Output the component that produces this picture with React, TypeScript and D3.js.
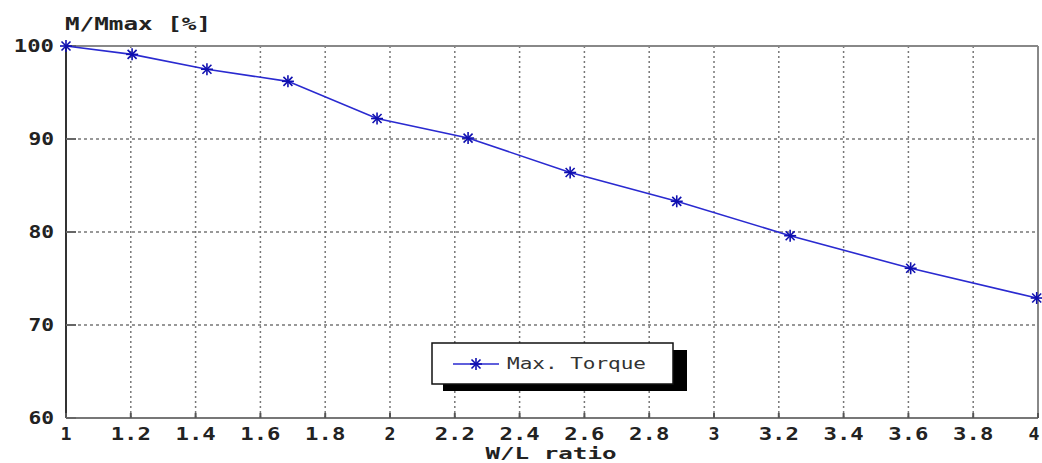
import React from "react";
import * as d3 from "d3";

const wlRatio = [1, 1.204, 1.435, 1.685, 1.96, 2.241, 2.556, 2.885, 3.235, 3.607, 3.996];
const maxTorque = [100, 99.1, 97.5, 96.2, 92.2, 90.1, 86.4, 83.3, 79.6, 76.1, 72.9];
const xTicks = [1, 1.2, 1.4, 1.6, 1.8, 2, 2.2, 2.4, 2.6, 2.8, 3, 3.2, 3.4, 3.6, 3.8, 4];
const yTicks = [60, 70, 80, 90, 100];
const seriesName = "Max. Torque";
const yTitle = "M/Mmax [%]";
const xTitle = "W/L ratio";

const W = 1042, H = 463;
const m = { left: 66, right: 1038, top: 46, bottom: 418 };
const font = "'DejaVu Sans Mono', monospace";

function T(props: { x: number; y: number; s: string; anchor?: string; cell: number; bold?: boolean; size?: number; fill?: string }) {
  const { x, y, s, anchor = "start", cell, bold = true, size = 17, fill = "#222" } = props;
  const len = s.length * cell - (cell - 11);
  return (
    <text x={x} y={y} textAnchor={anchor} fontFamily={font} fontWeight={bold ? "bold" : "normal"} fontSize={size}
      textLength={len} lengthAdjust="spacingAndGlyphs" fill={fill}>
      {s}
    </text>
  );
}

export default function App() {
  const x = d3.scaleLinear().domain([1, 4]).range([m.left, m.right]);
  const y = d3.scaleLinear().domain([60, 100]).range([m.bottom, m.top]);
  const line = d3.line<number>().x((_, i) => x(wlRatio[i])).y((d) => y(d));
  const star = (cx: number, cy: number, k: number) => {
    const r = 6;
    return (
      <g key={k} stroke="#1010b0" strokeWidth={1.6}>
        <line x1={cx - r} y1={cy} x2={cx + r} y2={cy} />
        <line x1={cx} y1={cy - r} x2={cx} y2={cy + r} />
        <line x1={cx - r * 0.75} y1={cy - r * 0.75} x2={cx + r * 0.75} y2={cy + r * 0.75} />
        <line x1={cx - r * 0.75} y1={cy + r * 0.75} x2={cx + r * 0.75} y2={cy - r * 0.75} />
      </g>
    );
  };
  const lx = 432, ly = 343, lw = 241, lh = 41;
  return (
    <svg width={W} height={H} style={{ position: "absolute", left: 0, top: 0, background: "#fff" }}>
      {/* grid */}
      {xTicks.slice(1, -1).map((t) => (
        <line key={"gx" + t} x1={x(t)} x2={x(t)} y1={m.top} y2={m.bottom} stroke="#777" strokeWidth={1.5} strokeDasharray="2,3" />
      ))}
      {yTicks.slice(1, -1).map((t) => (
        <line key={"gy" + t} x1={m.left} x2={m.right} y1={y(t)} y2={y(t)} stroke="#777" strokeWidth={1.5} strokeDasharray="3,3" />
      ))}
      {/* frame */}
      <line x1={m.left} x2={m.right} y1={m.top} y2={m.top} stroke="#888" strokeWidth={2} />
      <line x1={m.right} x2={m.right} y1={m.top} y2={m.bottom} stroke="#888" strokeWidth={2} />
      <line x1={m.left} x2={m.right} y1={m.bottom} y2={m.bottom} stroke="#777" strokeWidth={2} />
      <line x1={m.left} x2={m.left} y1={m.top} y2={m.bottom} stroke="#333" strokeWidth={2} />
      {/* ticks */}
      {xTicks.map((t) => (
        <line key={"tx" + t} x1={x(t)} x2={x(t)} y1={m.bottom} y2={m.bottom - 5} stroke="#555" strokeWidth={2} />
      ))}
      {yTicks.map((t) => (
        <line key={"ty" + t} x1={m.left} x2={m.left + 10} y1={y(t)} y2={y(t)} stroke="#666" strokeWidth={2} />
      ))}
      {/* tick labels */}
      {xTicks.map((t) => (
        <T key={"lx" + t} x={x(t) + (t === 4 ? -4 : 0)} y={440} anchor="middle" s={String(t)} cell={14.6} />
      ))}
      {yTicks.map((t) => (
        <T key={"ly" + t} x={54} y={y(t) + 6} anchor="end" s={String(t)} cell={14.6} />
      ))}
      <T x={65} y={30} s={yTitle} cell={15} />
      <T x={551} y={459} anchor="middle" s={xTitle} cell={15} size={16} />
      {/* series */}
      <path d={line(maxTorque) || ""} fill="none" stroke="#2a2ad0" strokeWidth={1.6} />
      {maxTorque.map((v, i) => star(x(wlRatio[i]), y(v), i))}
      {/* legend */}
      <rect x={lx + 11} y={ly + 7} width={lw + 3} height={lh} fill="#000" />
      <rect x={lx} y={ly} width={lw} height={lh} fill="#fff" stroke="#111" strokeWidth={1.5} />
      <line x1={453} x2={499} y1={364} y2={364} stroke="#2a2ad0" strokeWidth={1.6} />
      {star(476, 364, 99)}
      <T x={507} y={369} s={seriesName} cell={12.8} bold={false} size={16} fill="#333" />
    </svg>
  );
}
